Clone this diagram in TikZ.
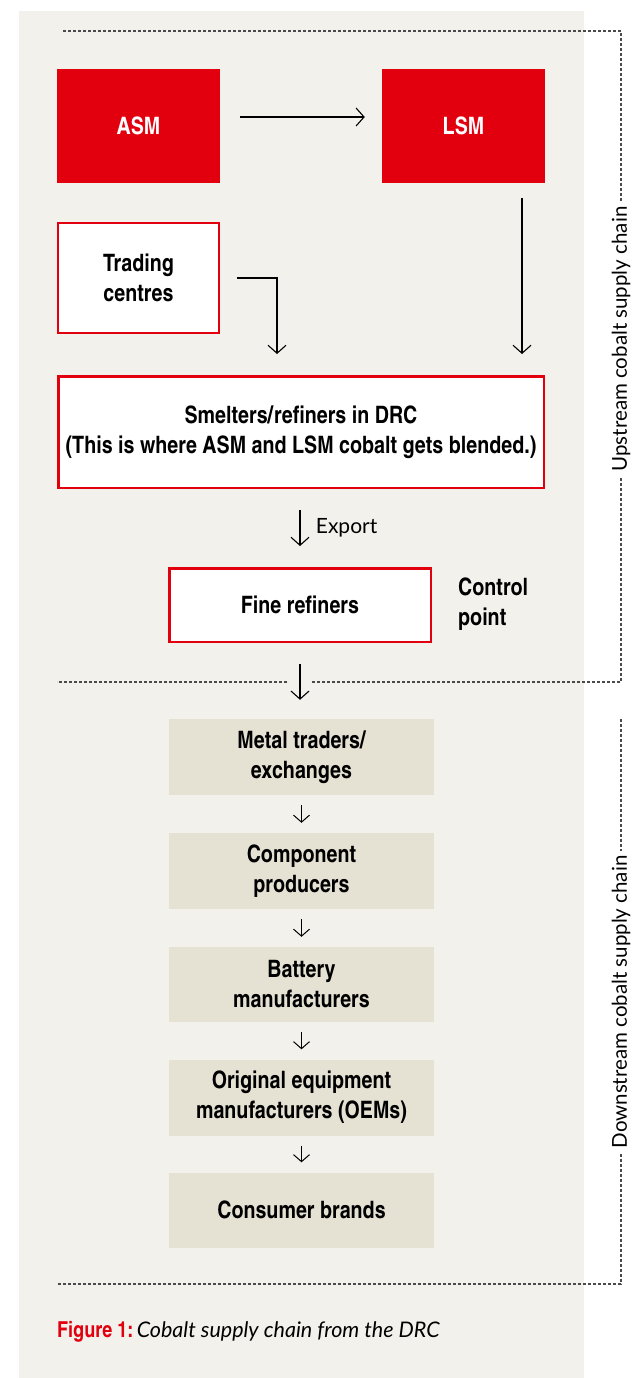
\documentclass[tikz,border=0pt]{standalone}
\usepackage{fontspec}
\setmainfont{Lato}
\newfontfamily\cond{TeX Gyre Heros Cn}
\usetikzlibrary{arrows.meta,calc}
\definecolor{cred}{HTML}{E2000F}
\definecolor{panel}{HTML}{F3F1EC}
\definecolor{beige}{HTML}{E5E1D3}
\definecolor{dashc}{HTML}{4A4A4A}
\tikzset{
  boxtext/.style={font=\cond\bfseries\fontsize{24}{30}\selectfont, align=center, inner sep=0pt},
  redbox/.style={boxtext, fill=cred, text=white},
  whitebox/.style={boxtext, fill=white, draw=cred, line width=2.5pt},
  beigebox/.style={boxtext, fill=beige, minimum width=265pt, minimum height=76pt},
  arr/.style={-{Straight Barb[length=8pt,width=18pt]}, line width=1.1pt},
  sarr/.style={-{Straight Barb[length=7pt,width=16pt]}, line width=1pt, shorten <=10pt, shorten >=10pt},
  dashline/.style={draw=dashc, line width=1.2pt, dash pattern=on 3pt off 2pt},
  vlabel/.style={rotate=90, fill=white, inner sep=5pt, font=\fontsize{20.5}{22}\selectfont},
}
\begin{document}
\begin{tikzpicture}[x=1pt,y=-1pt]
\useasboundingbox (0,0) rectangle (635,1378);
\fill[panel] (19,11) rectangle (584,1378);

% dashed brackets
\draw[dashline] (63,31) -- (621,31) -- (621,682) -- (312,682);
\draw[dashline] (287,682) -- (57,682);
\node[vlabel] (uplab) at (621,339) {Upstream cobalt supply chain};
\draw[dashline] (621,719) -- (621,1284) -- (57,1284);
\node[vlabel] (downlab) at (621,1002) {Downstream cobalt supply chain};

% upstream boxes
\node[redbox, minimum width=163pt, minimum height=114pt] (asm) at (138.5,126) {ASM};
\node[redbox, minimum width=163pt, minimum height=114pt] (lsm) at (463.5,126) {LSM};
\node[whitebox, minimum width=161pt, minimum height=110pt] (trade) at (138.5,278) {Trading\\centres};
\node[whitebox, minimum width=485.5pt, minimum height=111.5pt] (smelt) at (301,432) {Smelters/\kern1pt refiners in DRC\\(This is where ASM and LSM cobalt gets blended.)};
\node[whitebox, minimum width=261.5pt, minimum height=73.5pt] (fine) at (300,605) {Fine refiners};
\node[boxtext, anchor=west, align=left] (ctrl) at (458,604) {Control\\point};

% downstream boxes
\node[beigebox] (metal) at (301.5,757) {Metal traders/\\exchanges};
\node[beigebox] (comp) at (301.5,871) {Component\\producers};
\node[beigebox, minimum height=75pt] (batt) at (301.5,984.5) {Battery\\manufacturers};
\node[beigebox] (oem) at (301.5,1097.5) {Original equipment\\manufacturers (OEMs)};
\node[beigebox, minimum height=75pt] (cons) at (301.5,1210) {Consumer brands};

% connectors
\draw[arr, shorten <=20pt, shorten >=17pt] ([yshift=9pt]asm.east) -- ([yshift=9pt]lsm.west);
\draw[arr, shorten <=15pt, shorten >=21pt] ([xshift=58.5pt]lsm.south) -- ([xshift=58.5pt]lsm.south |- smelt.north);
\draw[arr, shorten <=17pt, shorten >=21pt] (trade.east) -| ([xshift=-24pt]smelt.north);
\draw[arr, shorten <=21pt, shorten >=21pt] ([xshift=-1pt]smelt.south) -- (fine.north) node[midway, right=12pt, font=\fontsize{21}{22}\selectfont] (export) {Export};
\draw[arr, shorten <=21pt, shorten >=19pt] (fine.south) -- (fine.south |- metal.north);
\draw[sarr] (metal.south) -- (comp.north);
\draw[sarr] (comp.south) -- (batt.north);
\draw[sarr] (batt.south) -- (oem.north);
\draw[sarr] (oem.south) -- (cons.north);

% caption
\node[anchor=west, inner sep=0pt] (cap) at (57,1332) {{\cond\bfseries\fontsize{22}{26}\selectfont\color{cred}Figure 1:} {\itshape\fontsize{21.5}{24}\selectfont Cobalt supply chain from the DRC}};
\end{tikzpicture}
\end{document}
